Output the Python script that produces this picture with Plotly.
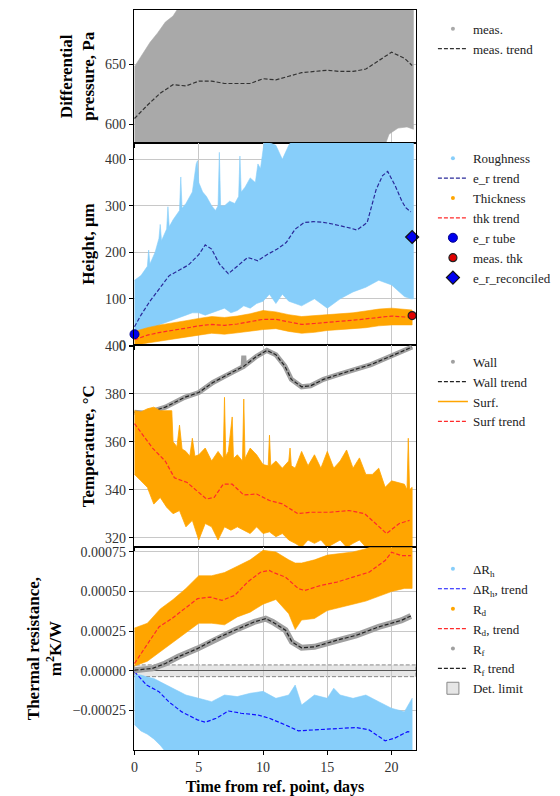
import plotly.graph_objects as go
from plotly.subplots import make_subplots

# ---------------- Panel 1: differential pressure ----------------
dp_env_x = [0, 0.4, 0.8, 1.2, 1.8, 2.4, 3.0, 3.6, 19.4, 19.8, 20.5, 21.2, 21.7]
dp_env_hi = [648, 655, 662, 668, 676, 685, 690, 700, 700, 700, 700, 700, 700]
dp_env_lo = [580, 580, 580, 580, 580, 580, 580, 580, 580, 592, 597, 598, 596]
dp_trend_x = [0, 1, 2, 3, 4, 5, 6, 7, 8, 9, 10, 11, 12, 13, 14, 15, 16, 17, 18, 19, 20, 21, 21.6]
dp_trend_y = [605, 616, 626, 633, 632, 636, 636, 634, 634, 634, 638, 637, 640, 643, 644, 645,
              644, 644, 646, 653, 660, 655, 649]

# ---------------- Panel 2: height ----------------
rough_hi_x = [0, 0.5, 1.0, 1.1, 1.2, 1.6, 1.9, 2.0, 2.1, 2.5, 2.6, 2.7, 3.0, 3.5, 3.6, 3.7,
              4.0, 4.5, 4.8, 4.9, 5.0, 5.3, 5.6, 6.0, 6.3, 6.5, 6.6, 6.7, 7.0, 7.4, 7.8, 8.1,
              8.2, 8.3, 8.6, 9.0, 9.4, 9.6, 9.8, 10.1, 11.0, 11.5, 12.0, 12.5, 21.7]
rough_hi = [140, 150, 170, 205, 175, 200, 230, 260, 225, 250, 298, 255, 270, 290, 362, 295,
            305, 330, 390, 397, 350, 330, 320, 300, 290, 300, 415, 300, 300, 310, 305, 320,
            407, 330, 340, 360, 350, 390, 380, 440, 430, 400, 430, 450, 450]
rough_lo_x = [0, 0.5, 1, 1.5, 2, 2.5, 3, 3.5, 4, 4.5, 5, 5.5, 6, 6.5, 7, 7.5, 8, 8.5, 9, 9.5,
              10, 10.5, 11, 11.5, 12, 13, 14, 15, 16, 17, 18, 19, 20, 21, 21.5, 21.7]
rough_lo = [20, 25, 30, 35, 45, 50, 55, 60, 65, 70, 70, 65, 70, 75, 80, 70, 75, 85, 80, 90,
            95, 110, 90, 110, 95, 85, 100, 80, 100, 115, 125, 140, 130, 105, 100, 100]
er_trend_x = [0, 0.5, 1.2, 2, 2.7, 3.5, 4.2, 5, 5.5, 6, 6.6, 7.3, 8, 8.8, 9.6, 10.3, 11.1,
              11.8, 12.5, 13.2, 13.9, 14.6, 15.4, 16.1, 16.8, 17.3, 18.1, 18.8, 19.3, 19.7,
              20.3, 20.8, 21.1, 21.5]
er_trend_y = [40, 65, 95, 125, 150, 162, 173, 195, 216, 207, 175, 154, 170, 189, 182, 195,
              207, 221, 250, 264, 266, 265, 261, 257, 252, 248, 264, 335, 365, 374, 342, 310,
              296, 287]
thk_x = [0, 1, 2, 3, 4, 5, 6, 7, 8, 9, 10, 11, 12, 13, 14, 15, 16, 17, 18, 19, 20, 21, 21.6]
thk_trend = [12, 22, 28, 32, 37, 42, 45, 43, 46, 51, 56, 56, 50, 45, 47, 50, 52, 54, 57, 61, 63, 61, 61]
thk_lo = [0, 5, 10, 14, 18, 22, 26, 24, 27, 30, 34, 36, 30, 26, 28, 32, 34, 36, 38, 42, 44, 44, 44]
thk_hi = [30, 38, 44, 48, 53, 58, 62, 60, 63, 68, 75, 72, 66, 62, 64, 66, 68, 70, 74, 78, 80, 78, 76]
er_tube = (0, 24)
thk_meas = (21.6, 64)
er_reconciled = (21.6, 233)

# ---------------- Panel 3: temperature ----------------
wall_x = [0, 0.9, 2.4, 3.9, 5, 6.1, 7.3, 8.45, 8.5, 8.55, 9.5, 10.3, 11, 11.7, 12.2, 13, 13.7,
          14.7, 15.9, 17.2, 18.4, 19.6, 20.9, 21.6]
wall_meas = [372.4, 372, 374.5, 378.6, 380.6, 384.8, 388.2, 391.4, 396, 391.8, 395.7, 398.2,
             396.4, 391.6, 386.1, 383, 383.4, 386.1, 388.2, 390.2, 392.3, 395, 397.8, 399.6]
wall_trend_x = [0, 0.9, 2.4, 3.9, 5, 6.1, 7.3, 8.5, 9.5, 10.3, 11, 11.7, 12.2, 13, 13.7, 14.7,
                15.9, 17.2, 18.4, 19.6, 20.9, 21.6]
wall_trend = [372.4, 372, 374.5, 378.6, 380.6, 384.8, 388.2, 391.6, 395.7, 398.2, 396.4, 391.6,
              386.1, 383, 383.4, 386.1, 388.2, 390.2, 392.3, 395, 397.8, 399.6]
surf_hi_x = [0, 0.5, 1, 1.5, 2, 2.5, 2.9, 3.0, 3.3, 3.5, 3.7, 4.0, 4.3, 4.5, 4.7, 5.0, 5.5,
             6.0, 6.5, 6.9, 7.0, 7.1, 7.3, 7.6, 7.7, 8.0, 8.4, 8.5, 8.6, 9.0, 9.5, 10.0, 10.4,
             10.5, 10.6, 11.0, 11.5, 12.0, 12.1, 12.2, 12.5, 13.0, 13.5, 14.0, 14.5, 15.0,
             15.5, 16.0, 16.5, 17.0, 17.5, 18.0, 18.5, 19.0, 19.5, 20.0, 20.5, 21.0, 21.2,
             21.3, 21.4, 21.6]
surf_hi = [373, 372.5, 373.8, 374.5, 373, 373, 373, 360, 358, 367, 357, 356, 354, 361.5, 354,
           354.6, 357.4, 352, 356, 353, 378.6, 354, 356, 370.4, 353, 354.6, 352, 377.9, 353,
           357.4, 354.6, 350.5, 350, 362.8, 350, 352, 349, 352, 357.4, 350, 349, 356, 350,
           354.6, 349, 356, 349, 352, 356.6, 349, 353.3, 346.4, 346.4, 349, 341, 343.7, 343,
           342.3, 340, 361.5, 340, 341]
surf_lo_x = [0, 0.5, 1, 1.5, 2, 2.5, 3, 3.5, 4, 4.5, 5, 5.5, 6, 6.5, 7, 7.5, 8, 8.5, 9, 9.5,
             10, 10.5, 11, 11.5, 12, 12.5, 13, 13.5, 14, 14.5, 15, 15.5, 16, 16.5, 17, 17.5,
             18, 18.5, 19, 19.5, 20, 20.5, 21, 21.6]
surf_lo = [346.4, 343.7, 341, 334, 336.8, 332.7, 330, 331.3, 324.5, 327.2, 319, 325.9, 324.5,
           319, 324.5, 323.1, 324.5, 323.1, 321.7, 324.5, 321.7, 322.4, 320.4, 321.7, 319,
           317.6, 316, 319, 317.6, 319, 316, 317.6, 319, 316, 317.6, 319, 316, 316, 314, 314,
           315, 316, 315, 314]
surf_trend_x = [0, 1.4, 2.4, 3.1, 4.1, 4.85, 5.6, 6.2, 6.9, 7.6, 8.5, 9.5, 10.5, 11.5, 12.7,
                13.7, 15.2, 16.7, 17.9, 18.9, 19.6, 20.6, 21.4]
surf_trend = [367.6, 357.4, 351.9, 345, 343, 339.5, 336.1, 336.8, 342.3, 342.3, 337.8, 338.2,
              335.5, 334.1, 330, 330.6, 330.6, 331.3, 330, 325.2, 321.7, 325.9, 327.2]

# ---------------- Panel 4: thermal resistance ----------------
rh_x = [0, 0.5, 1, 1.5, 2, 2.5, 3, 3.5, 4, 5, 6, 7, 8, 9, 10, 11, 12, 12.5, 13, 14, 15, 15.5,
        16, 17, 18, 19, 20, 21, 21.6]
rh_hi = [-0.000023, -0.000027, -0.00004, -0.000048, -0.00007, -0.00009, -0.00011, -0.00013,
         -0.000153, -0.000174, -0.000195, -0.000153, -0.000163, -0.000142, -0.00013, -0.000174,
         -0.000153, -0.00009, -0.000216, -0.000153, -0.000174, -0.00011, -0.000153, -0.000174,
         -0.000153, -0.000195, -0.000237, -0.000258, -0.000174]
rh_lo = [-0.00034, -0.00038, -0.0004, -0.00043, -0.00047, -0.00052, -0.00052, -0.00052,
         -0.00052, -0.00052, -0.00052, -0.00052, -0.00052, -0.00052, -0.00052, -0.00052,
         -0.00052, -0.00052, -0.00052, -0.00052, -0.00052, -0.00052, -0.00052, -0.00052,
         -0.00052, -0.00052, -0.00052, -0.00052, -0.00052]
rh_trend_x = [0, 0.45, 0.94, 1.9, 2.66, 3.65, 4.9, 5.5, 6.35, 7.3, 8.3, 9.6, 10.5, 11.75,
              12.75, 14, 15.75, 17.25, 18.25, 19.5, 20.25, 21.25, 21.5]
rh_trend = [-0.000006, -0.000048, -0.00009, -0.000132, -0.000195, -0.000258, -0.00031,
            -0.000325, -0.0003, -0.000254, -0.000268, -0.000279, -0.0003, -0.000342,
            -0.000379, -0.000373, -0.000367, -0.000358, -0.000373, -0.000442, -0.000425,
            -0.000384, -0.000388]
rd_x = [0, 1, 2, 3, 4, 5, 6, 7, 8, 9, 10, 11, 12, 12.5, 13, 14, 15, 16, 17, 18, 19, 20, 21, 21.6]
rd_hi = [0.00027, 0.0003, 0.00039, 0.00045, 0.00052, 0.0006, 0.0006, 0.00062, 0.00066, 0.0007,
         0.00076, 0.00075, 0.0007, 0.00068, 0.00068, 0.0007, 0.00073, 0.00074, 0.00075,
         0.00077, 0.0008, 0.0008, 0.0008, 0.00078]
rd_lo = [0.00003, 0.00006, 0.00012, 0.00018, 0.00024, 0.0003, 0.0003, 0.00029, 0.00034,
         0.00037, 0.00042, 0.00045, 0.00036, 0.00026, 0.00032, 0.00033, 0.00038, 0.0004,
         0.00042, 0.00044, 0.00047, 0.0005, 0.00052, 0.00052]
rd_trend_x = [0, 0.94, 1.9, 2.9, 3.9, 4.9, 5.9, 6.8, 7.8, 8.8, 9.8, 10.5, 10.75, 11.75, 12.75,
              13.25, 14.5, 15.75, 17, 18.25, 19.5, 20, 20.75, 21.5]
rd_trend = [0.000046, 0.000161, 0.000277, 0.000329, 0.000392, 0.000455, 0.000465, 0.000444,
            0.000476, 0.00056, 0.000622, 0.000633, 0.000622, 0.000591, 0.000518, 0.000507,
            0.000539, 0.00056, 0.000591, 0.000622, 0.000696, 0.000748, 0.000727, 0.000727]
rf_x = [0, 1.4, 2.4, 3.4, 4.9, 6.35, 7.8, 9.3, 10.2, 10.75, 11.75, 12.25, 13, 14, 15.75,
        17.25, 19, 20.75, 21.5]
rf_meas = [0.000004, 0.000015, 0.000046, 0.000088, 0.00014, 0.000203, 0.000256, 0.000308,
           0.000329, 0.000308, 0.000256, 0.000182, 0.000145, 0.000151, 0.000193, 0.000224,
           0.000277, 0.000318, 0.000346]
rf_trend = [0.000004, 0.000015, 0.000046, 0.000088, 0.00014, 0.000203, 0.000256, 0.000308,
            0.000329, 0.000308, 0.000256, 0.000182, 0.000145, 0.000151, 0.000193, 0.000224,
            0.000277, 0.000318, 0.000346]
det_limit = 0.000037

x_range = [-0.04, 21.9]
y_ranges = [[585, 695], [0, 436], [316, 400.3], [-0.0005, 0.00078]]

FONT = "Liberation Serif"
GRAY = "#a9a9a9"
LBLUE = "#87cefa"
ORANGE = "#ffa500"
DASH = "4px,2px"

fig = make_subplots(rows=4, cols=1, shared_xaxes=True, vertical_spacing=0,
                    row_heights=[134, 205, 204, 205])


def band2(xh, hi, xl, lo, color, row, legend, lw=0.6):
    fig.add_trace(go.Scatter(x=list(xh) + list(xl)[::-1], y=list(hi) + list(lo)[::-1],
                             fill="toself", fillcolor=color, mode="lines",
                             line=dict(color=color, width=lw), hoverinfo="skip",
                             showlegend=False, legend=legend), row=row, col=1)


def proxy_marker(name, color, legend, row, size=4):
    fig.add_trace(go.Scatter(x=[None], y=[None], mode="markers", name=name, legend=legend,
                             marker=dict(color=color, size=size, line=dict(width=0))),
                  row=row, col=1)


def trend(x, y, color, name, legend, row, dash=DASH, width=1.2):
    fig.add_trace(go.Scatter(x=x, y=y, mode="lines", name=name, legend=legend,
                             line=dict(color=color, width=width, dash=dash)), row=row, col=1)


# Panel 1
band2(dp_env_x, dp_env_hi, dp_env_x, dp_env_lo, GRAY, 1, "legend")
proxy_marker("meas.", GRAY, "legend", 1)
trend(dp_trend_x, dp_trend_y, "#333333", "meas. trend", "legend", 1)

# Panel 2
band2(rough_hi_x, rough_hi, rough_lo_x, rough_lo, LBLUE, 2, "legend2")
proxy_marker("Roughness", LBLUE, "legend2", 2)
trend(er_trend_x, er_trend_y, "#2a2a9a", "e_r trend", "legend2", 2)
band2(thk_x, thk_hi, thk_x, thk_lo, ORANGE, 2, "legend2")
proxy_marker("Thickness", ORANGE, "legend2", 2)
trend(thk_x, thk_trend, "#ff2a2a", "thk trend", "legend2", 2)
fig.add_trace(go.Scatter(x=[er_tube[0]], y=[er_tube[1]], mode="markers", name="e_r tube",
                         legend="legend2", cliponaxis=False,
                         marker=dict(color="#0000ee", size=9, line=dict(color="#00008b", width=1))),
              row=2, col=1)
fig.add_trace(go.Scatter(x=[thk_meas[0]], y=[thk_meas[1]], mode="markers", name="meas. thk",
                         legend="legend2", cliponaxis=False,
                         marker=dict(color="#e00000", size=8, line=dict(color="#222", width=1.2))),
              row=2, col=1)
fig.add_trace(go.Scatter(x=[er_reconciled[0]], y=[er_reconciled[1]], mode="markers",
                         name="e_r_reconciled", legend="legend2", cliponaxis=False,
                         marker=dict(color="#0000ee", size=10, symbol="diamond",
                                     line=dict(color="#111", width=1.2))),
              row=2, col=1)

# Panel 3
fig.add_trace(go.Scatter(x=wall_x, y=wall_meas, mode="lines", showlegend=False,
                         line=dict(color="#a0a0a0", width=5), hoverinfo="skip",
                         legend="legend3"), row=3, col=1)
proxy_marker("Wall", "#a0a0a0", "legend3", 3)
trend(wall_trend_x, wall_trend, "#222222", "Wall trend", "legend3", 3)
band2(surf_hi_x, surf_hi, surf_lo_x, surf_lo, ORANGE, 3, "legend3", lw=0.8)
fig.add_trace(go.Scatter(x=[None], y=[None], mode="lines", name="Surf.", legend="legend3",
                         line=dict(color=ORANGE, width=1.5)), row=3, col=1)
trend(surf_trend_x, surf_trend, "#ff2a2a", "Surf trend", "legend3", 3)

# Panel 4
band2(rh_x, rh_hi, rh_x, rh_lo, LBLUE, 4, "legend4")
proxy_marker("ΔR<sub>h</sub>", LBLUE, "legend4", 4)
trend(rh_trend_x, rh_trend, "#1010ff", "ΔR<sub>h</sub>, trend", "legend4", 4)
band2(rd_x, rd_hi, rd_x, rd_lo, ORANGE, 4, "legend4")
proxy_marker("R<sub>d</sub>", ORANGE, "legend4", 4)
trend(rd_trend_x, rd_trend, "#ff2a2a", "R<sub>d</sub>, trend", "legend4", 4)
fig.add_trace(go.Scatter(x=rf_x, y=rf_meas, mode="lines", showlegend=False,
                         line=dict(color="#a0a0a0", width=6), hoverinfo="skip",
                         legend="legend4"), row=4, col=1)
proxy_marker("R<sub>f</sub>", "#a0a0a0", "legend4", 4)
trend(rf_x, rf_trend, "#222222", "R<sub>f</sub> trend", "legend4", 4)
fig.add_hrect(y0=-det_limit, y1=det_limit, row=4, col=1,
              fillcolor="rgba(200,200,200,0.45)", line=dict(color="#888", width=1, dash="4px,2px"),
              layer="below", showlegend=True, name="Det. limit", legend="legend4")

# Axes
ytitles = ["<b>Differential<br>pressure, Pa</b>", "<b>Height, μm</b>",
           "<b>Temperature, °C</b>", "<b>Thermal resistance,<br>m<sup>2</sup>K/W</b>"]
ytickvals = [[600, 650], [0, 100, 200, 300, 400], [320, 340, 360, 380, 400],
             [-0.00025, 0, 0.00025, 0.0005, 0.00075]]
yticktext = [["600", "650"], ["0", "100", "200", "300", "400"],
             ["320", "340", "360", "380", "400"],
             ["−0.00025", "0.00000", "0.00025", "0.00050", "0.00075"]]
for i in range(4):
    r = i + 1
    fig.update_yaxes(row=r, col=1, range=y_ranges[i], tickvals=ytickvals[i],
                     ticktext=yticktext[i],
                     showgrid=True, gridcolor="#c8c8c8", gridwidth=1,
                     showline=True, linecolor="black", linewidth=1.2, mirror=True,
                     ticks="outside", ticklen=4, tickcolor="black",
                     zeroline=(r == 4), zerolinecolor="#555", zerolinewidth=1,
                     tickfont=dict(family=FONT, size=14, color="#333"),
                     title=dict(text=ytitles[i], standoff=6,
                                font=dict(family=FONT, size=17, color="black")))
    fig.update_xaxes(row=r, col=1, range=x_range, tickvals=[0, 5, 10, 15, 20],
                     showgrid=True, gridcolor="#c8c8c8", gridwidth=1,
                     showline=True, linecolor="black", linewidth=1.2, mirror=True,
                     ticks="outside", ticklen=4, tickcolor="black", zeroline=False,
                     showticklabels=(r == 4),
                     tickfont=dict(family=FONT, size=14, color="#333"))
fig.update_xaxes(row=4, col=1, title=dict(text="<b>Time from ref. point, days</b>", standoff=6,
                                         font=dict(family=FONT, size=16, color="black")))

leg = dict(x=1.06, xanchor="left", yanchor="top", bgcolor="rgba(0,0,0,0)",
           font=dict(family=FONT, size=13, color="#222"), itemwidth=30,
           tracegroupgap=0)
fig.update_layout(
    width=560, height=796,
    margin=dict(l=134, r=132, t=4, b=44),
    plot_bgcolor="white", paper_bgcolor="white",
    font=dict(family=FONT),
    legend=dict(leg, y=0.995),
    legend2=dict(leg, y=0.82),
    legend3=dict(leg, y=0.545),
    legend4=dict(leg, y=0.265),
)

fig.write_html("out.html")
